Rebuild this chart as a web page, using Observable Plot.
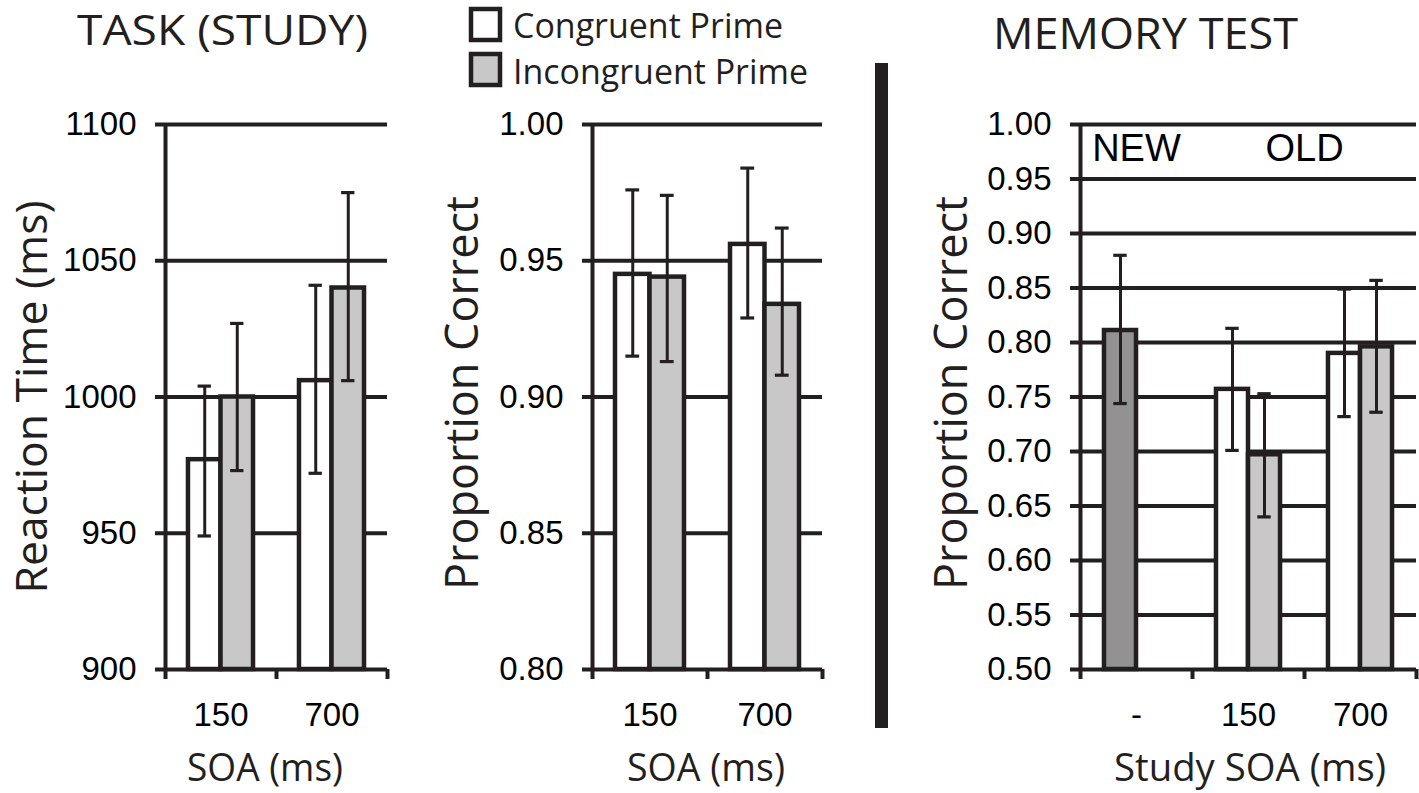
<!DOCTYPE html>
<html><head><meta charset="utf-8">
<script src="https://cdn.jsdelivr.net/npm/d3@7"></script>
<script src="https://cdn.jsdelivr.net/npm/@observablehq/plot@0.6"></script>
<style>
body{margin:0;background:#fff;}
#root{position:relative;width:1419px;height:793px;overflow:hidden;background:#fff;}
#root > svg{position:absolute;top:0;}
#overlay{position:absolute;left:0;top:0;pointer-events:none;}
</style></head>
<body><div id="root"></div>
<script>
// ---------- data ----------
const studySOA = ["150", "700"];
const rtCongruent = [977, 1006];
const rtCongruentLo = [949, 972];
const rtCongruentHi = [1004, 1041];
const rtIncongruent = [1000, 1040];
const rtIncongruentLo = [973, 1006];
const rtIncongruentHi = [1027, 1075];
const rtTicks = [900, 950, 1000, 1050, 1100];

const accCongruent = [0.945, 0.956];
const accCongruentLo = [0.915, 0.929];
const accCongruentHi = [0.976, 0.984];
const accIncongruent = [0.944, 0.934];
const accIncongruentLo = [0.913, 0.908];
const accIncongruentHi = [0.974, 0.962];
const accTicks = [0.80, 0.85, 0.90, 0.95, 1.00];

const memSOA = ["-", "150", "700"];
const memNew = 0.811, memNewLo = 0.744, memNewHi = 0.880;
const memCongruent = [0.757, 0.790];
const memCongruentLo = [0.701, 0.732];
const memCongruentHi = [0.813, 0.849];
const memIncongruent = [0.697, 0.796];
const memIncongruentLo = [0.640, 0.736];
const memIncongruentHi = [0.753, 0.857];
const memTicks = [0.50, 0.55, 0.60, 0.65, 0.70, 0.75, 0.80, 0.85, 0.90, 0.95, 1.00];
const regionLabels = ["NEW", "OLD"];
const regionStart = [0, 1];
const regionEnd = [1, 3];

const legendLabels = ["Congruent Prime", "Incongruent Prime"];

// ---------- style ----------
const INK = "#231f20";
const FILL = {congruent: "#ffffff", incongruent: "#c8c8c8", new: "#929292"};
const fmt2 = d3.format(".2f");

function rowsFor(groupOffset, cong, congLo, congHi, inc, incLo, incHi) {
  const rows = [];
  cong.forEach((v, i) => rows.push({g: i + groupOffset, slot: 0, value: v, lo: congLo[i], hi: congHi[i], fill: FILL.congruent}));
  inc.forEach((v, i) => rows.push({g: i + groupOffset, slot: 1, value: v, lo: incLo[i], hi: incHi[i], fill: FILL.incongruent}));
  return rows;
}

function panel({cats, rows, ticks, tickFormat, barW, left, width, marginLeft, marginRight, extra = []}) {
  const n = cats.length;
  const yMin = ticks[0], yMax = ticks[ticks.length - 1];
  const x1 = d => d.g + 0.5 + (d.slot - 1) * barW;
  const xc = d => x1(d) + barW / 2;
  const cap = 0.06;
  const svg = Plot.plot({
    width, height: 793,
    marginTop: 124, marginBottom: 124, marginLeft, marginRight,
    style: {background: "transparent", overflow: "visible", color: INK, fontFamily: "Liberation Sans"},
    x: {type: "linear", domain: [0, n], label: null},
    y: {domain: [yMin, yMax], label: null},
    marks: [
      Plot.ruleY(ticks, {stroke: INK, strokeWidth: 4}),
      Plot.ruleX([0], {stroke: INK, strokeWidth: 4}),
      Plot.axisY({ticks, tickFormat, tickSize: 10, tickPadding: 19, strokeWidth: 4, fontSize: 33, fill: "#000", label: null}),
      Plot.axisX({ticks: d3.range(n + 1), tickSize: 10, tickFormat: () => "", strokeWidth: 4, label: null}),
      Plot.axisX({ticks: cats.map((c, i) => i + 0.5), tickSize: 0, tickPadding: 33, tickFormat: t => cats[Math.floor(t)], fontSize: 33, fill: "#000", label: null}),
      Plot.rectY(rows, {x1, x2: d => x1(d) + barW, y1: yMin, y2: "value", fill: "fill", stroke: INK, strokeWidth: 4.5}),
      Plot.ruleX(rows, {x: xc, y1: "lo", y2: "hi", stroke: INK, strokeWidth: 3}),
      Plot.ruleY(rows, {y: "hi", x1: d => xc(d) - cap, x2: d => xc(d) + cap, stroke: INK, strokeWidth: 3.2}),
      Plot.ruleY(rows, {y: "lo", x1: d => xc(d) - cap, x2: d => xc(d) + cap, stroke: INK, strokeWidth: 3.2}),
      ...extra
    ]
  });
  svg.style.left = left + "px";
  return svg;
}

const root = document.getElementById("root");

// Panel 1: Reaction time
root.appendChild(panel({
  cats: studySOA,
  rows: rowsFor(0, rtCongruent, rtCongruentLo, rtCongruentHi, rtIncongruent, rtIncongruentLo, rtIncongruentHi),
  ticks: rtTicks, tickFormat: d3.format("d"), barW: 0.293,
  left: 0, width: 420, marginLeft: 165, marginRight: 33
}));

// Panel 2: Study accuracy
root.appendChild(panel({
  cats: studySOA,
  rows: rowsFor(0, accCongruent, accCongruentLo, accCongruentHi, accIncongruent, accIncongruentLo, accIncongruentHi),
  ticks: accTicks, tickFormat: fmt2, barW: 0.30,
  left: 430, width: 440, marginLeft: 162, marginRight: 48
}));

// Panel 3: Memory test
const memRows = [{g: 0, slot: 0, value: memNew, lo: memNewLo, hi: memNewHi, fill: FILL.new},
  ...rowsFor(1, memCongruent, memCongruentLo, memCongruentHi, memIncongruent, memIncongruentLo, memIncongruentHi)];
const regions = regionLabels.map((t, i) => ({text: t, x: (regionStart[i] + regionEnd[i]) / 2}));
root.appendChild(panel({
  cats: memSOA,
  rows: memRows,
  ticks: memTicks, tickFormat: fmt2, barW: 0.286,
  left: 900, width: 519, marginLeft: 180, marginRight: 3,
  extra: [Plot.text(regions, {x: "x", text: "text", frameAnchor: "top", dy: 24, lineAnchor: "middle", fontSize: 38, fill: "#000"})]
}));

// ---------- annotations (titles, legend, axis labels, divider) ----------
const ov = d3.select(root).append("svg").attr("id", "overlay").attr("width", 1419).attr("height", 793)
  .attr("font-family", "Open Sans").attr("fill", INK);

function label(text, {x, y, size, len, anchor = "start", rotate = 0}) {
  ov.append("text").text(text)
    .attr("transform", `translate(${x},${y}) rotate(${rotate})`)
    .attr("font-size", size).attr("text-anchor", anchor)
    .attr("textLength", len).attr("lengthAdjust", "spacingAndGlyphs");
}

label("TASK (STUDY)", {x: 77, y: 45, size: 42, len: 291});
label("MEMORY TEST", {x: 993, y: 49, size: 44, len: 305});

label("Reaction Time (ms)", {x: 47, y: 397, size: 44, len: 393, anchor: "middle", rotate: -90});
label("Proportion Correct", {x: 478, y: 393, size: 45, len: 394, anchor: "middle", rotate: -90});
label("Proportion Correct", {x: 967, y: 393, size: 45, len: 394, anchor: "middle", rotate: -90});

label("SOA (ms)", {x: 265, y: 781, size: 39, len: 156, anchor: "middle"});
label("SOA (ms)", {x: 706, y: 781, size: 39, len: 158, anchor: "middle"});
label("Study SOA (ms)", {x: 1250, y: 781, size: 39, len: 272, anchor: "middle"});

// legend
const legendFill = [FILL.congruent, FILL.incongruent];
const legendLen = [270, 295];
legendLabels.forEach((t, i) => {
  ov.append("rect").attr("x", 471).attr("y", 9 + i * 45).attr("width", 29).attr("height", 31)
    .attr("fill", legendFill[i]).attr("stroke", INK).attr("stroke-width", 4.5);
  label(t, {x: 513, y: 38 + i * 46, size: 35, len: legendLen[i]});
});

// divider
ov.append("rect").attr("x", 875).attr("y", 63).attr("width", 13).attr("height", 665).attr("fill", INK);
</script>
</body></html>
